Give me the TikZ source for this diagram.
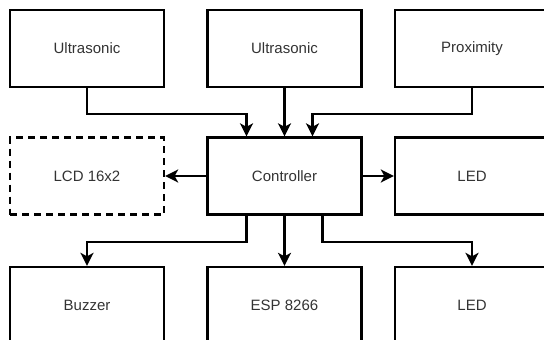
\documentclass[tikz,border=0pt]{standalone}
\usepackage{fontspec}
\setmainfont{Liberation Sans}
\usepackage{tikz}
\usetikzlibrary{calc, arrows.meta}
\definecolor{txtgray}{HTML}{333333}
\tikzset{every node/.append style={font=\fontsize{15}{18}\selectfont, text=txtgray}}
\tikzset{
    blk/.style={draw, line width=2.3pt, minimum width=154pt, minimum height=77pt, inner sep=0pt},
    optblk/.style={blk, dash pattern=on 7pt off 5pt},
    arr/.style={line width=2.3pt, -{Stealth[length=13pt, width=13pt, inset=3.5pt]}}
}

\begin{document}
\begin{tikzpicture}[x=1pt, y=-1pt]
    \useasboundingbox (0,0) rectangle (544,340);
    \clip (0,0) rectangle (544,340);
    % sensors
    \node[blk] (us1) at (87,48.5) {Ultrasonic};
    \node[blk] (us2) at (284.5,48.5) {Ultrasonic};
    \node[blk] (prox) at (472,48.5) {Proximity};
    % middle row
    \node[optblk] (lcd) at (87,176) {LCD 16x2};
    \node[blk] (ctrl) at (284.5,176) {Controller};
    \node[blk] (led1) at (472,176) {LED};
    % outputs
    \node[blk] (buzz) at (87,305.5) {Buzzer};
    \node[blk] (esp) at (284.5,305.5) {ESP 8266};
    \node[blk] (led2) at (472,305.5) {LED};
    % inputs into the controller
    \draw[arr] (us1.south) -- ++(0,26) -| ($(ctrl.north)+(-38,0)$);
    \draw[arr] (us2.south) -- (ctrl.north);
    \draw[arr] (prox.south) -- ++(0,26) -| ($(ctrl.north)+(28,0)$);
    \draw[arr] (ctrl.west) -- (lcd.east);
    \draw[arr] (ctrl.east) -- (led1.west);
    % controller outputs
    \draw[arr] ($(ctrl.south)+(-38,0)$) -- ++(0,26) -| (buzz.north);
    \draw[arr] (ctrl.south) -- (esp.north);
    \draw[arr] ($(ctrl.south)+(38,0)$) -- ++(0,26) -| (led2.north);
\end{tikzpicture}
\end{document}
